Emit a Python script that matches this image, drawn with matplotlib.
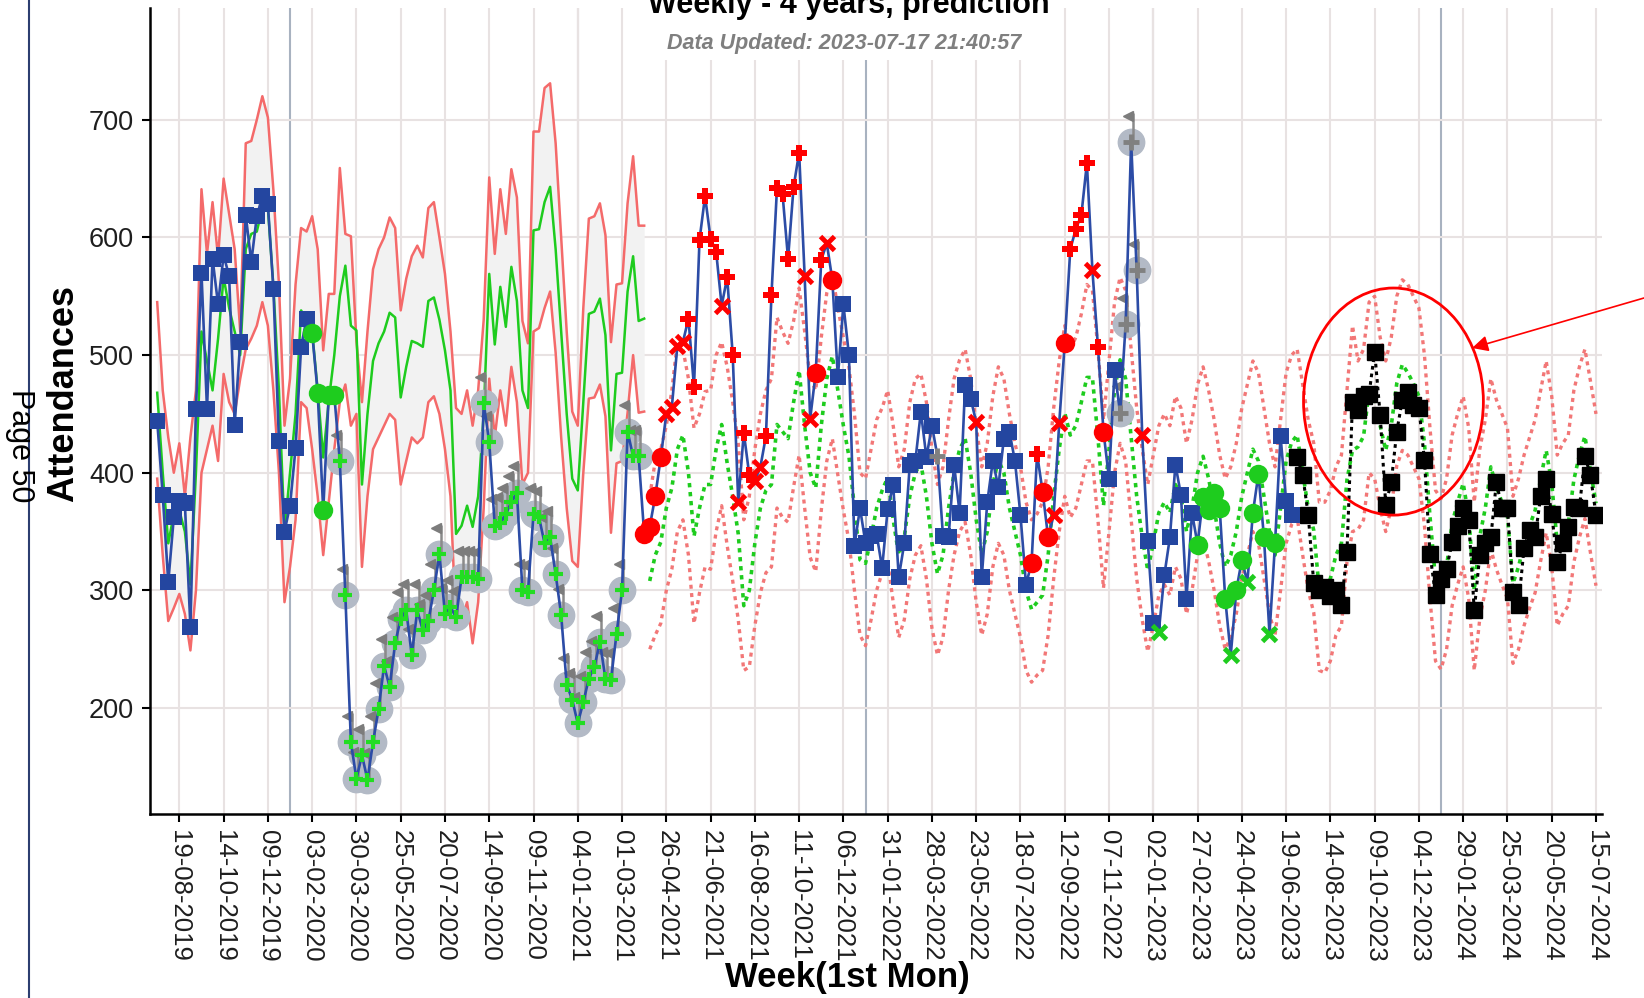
import matplotlib
matplotlib.use("Agg")
import matplotlib.pyplot as plt
import matplotlib.dates as mdates
import matplotlib.transforms as mtransforms
from matplotlib.lines import Line2D
from matplotlib.patches import Ellipse
import numpy as np
import pandas as pd

plt.rcParams["font.family"] = ["Liberation Sans", "DejaVu Sans"]

START = "2019-07-22"          # first week (Monday) in the series

# historical comparison band (solid), weeks 0..88
hist_upper = [545, 470, 430, 400, 425, 380, 430, 470, 641, 586,
              630, 583, 650, 620, 590, 520, 680, 682, 700, 720,
              702, 640, 560, 440, 480, 560, 608, 605, 618, 590,
              504, 552, 552, 659, 603, 601, 512, 460, 520, 573,
              590, 600, 617, 608, 538, 565, 584, 593, 583, 625,
              630, 600, 569, 520, 455, 450, 470, 440, 470, 530,
              651, 586, 641, 603, 658, 634, 529, 510, 690, 690,
              727, 731, 680, 600, 520, 452, 440, 540, 616, 618,
              629, 602, 511, 560, 561, 629, 669, 610, 610]
hist_mean = [468, 400, 340, 365, 368, 350, 305, 400, 520, 495,
             470, 514, 566, 540, 520, 500, 590, 603, 605, 625,
             625, 558, 470, 350, 400, 450, 538, 530, 520, 470,
             413, 461, 500, 550, 576, 525, 521, 390, 450, 495,
             510, 520, 536, 532, 464, 490, 512, 510, 507, 546,
             549, 530, 504, 470, 348, 355, 372, 354, 380, 450,
             569, 509, 558, 524, 575, 546, 470, 455, 606, 607,
             630, 643, 590, 520, 450, 395, 385, 460, 535, 537,
             548, 517, 419, 484, 485, 554, 584, 529, 531]
hist_lower = [395, 330, 274, 285, 297, 280, 249, 300, 400, 420,
              440, 410, 484, 460, 450, 480, 505, 514, 525, 545,
              525, 470, 400, 290, 320, 360, 460, 455, 420, 380,
              330, 375, 420, 460, 475, 440, 450, 320, 380, 420,
              430, 440, 450, 445, 390, 410, 430, 425, 430, 460,
              465, 450, 420, 380, 270, 275, 290, 255, 290, 370,
              480, 430, 470, 440, 490, 460, 390, 400, 520, 523,
              540, 554, 502, 430, 370, 325, 320, 400, 463, 464,
              475, 448, 349, 408, 410, 451, 500, 451, 452]

# forecast band (dotted), weeks 89..260
fc_upper = [380, 410, 420, 440, 470, 511, 505, 480, 438, 450,
            469, 470, 500, 511, 490, 460, 425, 360, 380, 420,
            450, 470, 480, 532, 520, 510, 529, 557, 520, 480,
            470, 515, 553, 569, 540, 515, 490, 450, 400, 395,
            420, 445, 455, 470, 440, 405, 420, 460, 480, 484,
            460, 420, 390, 405, 445, 480, 496, 505, 480, 440,
            405, 425, 465, 490, 480, 450, 425, 405, 375, 360,
            365, 375, 405, 455, 495, 525, 505, 515, 535, 560,
            555, 505, 445, 495, 545, 566, 555, 505, 455, 420,
            390, 415, 440, 450, 440, 465, 455, 425, 445, 475,
            490, 470, 445, 415, 395, 405, 425, 455, 475, 495,
            485, 455, 425, 405, 445, 485, 500, 505, 475, 445,
            425, 375, 375, 385, 405, 415, 470, 525, 495, 505,
            545, 550, 515, 495, 515, 550, 564, 560, 550, 540,
            500, 438, 385, 378, 395, 432, 450, 465, 438, 375,
            420, 445, 480, 462, 450, 438, 380, 395, 415, 430,
            445, 470, 495, 465, 415, 425, 432, 470, 490, 505,
            478, 450]
fc_mean = [308, 330, 341, 370, 387, 420, 432, 400, 346, 370,
           390, 390, 420, 441, 408, 380, 348, 287, 300, 340,
           370, 385, 390, 441, 435, 429, 460, 487, 440, 400,
           387, 440, 480, 499, 470, 440, 414, 370, 326, 323,
           345, 370, 385, 396, 360, 330, 345, 380, 400, 408,
           380, 340, 314, 330, 370, 400, 420, 429, 400, 360,
           331, 350, 390, 411, 400, 370, 350, 330, 300, 284,
           290, 296, 330, 380, 420, 451, 432, 440, 460, 481,
           481, 430, 372, 420, 470, 496, 480, 430, 380, 345,
           317, 340, 366, 375, 366, 390, 380, 350, 370, 400,
           414, 395, 370, 340, 320, 330, 350, 380, 400, 420,
           410, 380, 350, 330, 370, 410, 426, 432, 400, 370,
           351, 300, 300, 310, 330, 340, 394, 419, 422, 431,
           470, 465, 440, 419, 440, 476, 492, 485, 476, 465,
           425, 363, 309, 303, 320, 357, 375, 391, 363, 300,
           346, 370, 405, 388, 375, 363, 306, 320, 340, 355,
           368, 395, 419, 391, 340, 350, 357, 394, 415, 431,
           402, 374]
fc_lower = [250, 262, 272, 300, 318, 350, 360, 330, 272, 298,
            320, 318, 350, 372, 338, 308, 275, 232, 235, 270,
            298, 315, 320, 370, 362, 358, 388, 415, 370, 328,
            316, 368, 410, 429, 398, 368, 342, 300, 262, 253,
            275, 300, 315, 325, 290, 260, 275, 310, 330, 338,
            310, 268, 245, 260, 300, 330, 350, 358, 330, 290,
            262, 280, 320, 340, 330, 300, 280, 260, 232, 222,
            228, 232, 262, 310, 350, 380, 362, 370, 390, 410,
            410, 360, 302, 350, 400, 425, 410, 360, 310, 275,
            248, 270, 296, 305, 296, 320, 310, 280, 300, 330,
            344, 325, 300, 270, 250, 260, 280, 310, 330, 350,
            340, 310, 280, 262, 300, 340, 356, 362, 330, 300,
            281, 232, 230, 240, 262, 270, 324, 350, 352, 360,
            400, 395, 370, 350, 370, 406, 419, 415, 405, 395,
            355, 293, 240, 233, 250, 287, 305, 320, 293, 232,
            276, 300, 335, 318, 305, 293, 238, 250, 270, 285,
            298, 325, 349, 320, 270, 280, 287, 324, 345, 361,
            332, 304]

# weekly attendances, weeks 0..205
actual = [444, 381, 307, 362, 376, 374, 269, 454, 570, 454,
          582, 543, 585, 567, 441, 511, 619, 579, 618, 635,
          628, 556, 427, 350, 372, 421, 507, 531, 519, 468,
          368, 466, 466, 410, 296, 171, 140, 160, 139, 171,
          199, 236, 218, 255, 276, 283, 245, 283, 266, 274,
          300, 331, 280, 286, 277, 311, 311, 311, 310, 459,
          426, 355, 357, 365, 375, 383, 300, 299, 365, 362,
          340, 345, 314, 279, 220, 207, 187, 205, 225, 235,
          256, 225, 224, 263, 300, 435, 414, 414, 348, 354,
          380, 413, 450, 456, 508, 511, 531, 473, 598, 635,
          599, 588, 542, 566, 500, 375, 434, 398, 393, 405,
          431, 551, 642, 637, 582, 643, 672, 567, 446, 485,
          581, 595, 564, 481, 543, 500, 338, 370, 340, 346,
          348, 319, 369, 390, 311, 340, 407, 410, 452, 413,
          440, 414, 346, 345, 407, 366, 475, 463, 443, 311,
          375, 410, 388, 429, 435, 410, 364, 305, 323, 416,
          384, 345, 364, 442, 510, 590, 607, 619, 663, 572,
          507, 435, 395, 487, 451, 526, 681, 572, 432, 342,
          272, 265, 313, 345, 407, 381, 293, 366, 339, 379,
          368, 383, 370, 293, 245, 300, 326, 307, 366, 399,
          345, 263, 340, 431, 376, 364]
# point flag per week: s normal, g/G low (circle/cross), r/p/x high,
# c covid period, k flagged grey, q grey cross
flags = ("ssssssssss" "ssssssssss" "ssssssssgg" "gggccccccc" "cccccccccc"
         "cccccccccc" "cccccccccc" "cccccccccc" "ccccccccrr" "rrxxxxpppp"
         "ppxppxppxx" "pppppppxxr" "pxrsssssss" "ssssssssss" "sqssssssxs"
         "ssssssssrp" "rrxxrppppx" "prsskkkkxs" "sGssssssgg" "ggggGggGgg"
         "gGgsss")

# predicted weeks 206..260
pred = [413, 398, 364, 306, 300, 303, 295, 300, 288, 333,
        460, 453, 465, 467, 503, 449, 373, 392, 435, 462,
        469, 458, 455, 411, 331, 296, 310, 318, 341, 355,
        370, 360, 283, 330, 340, 345, 392, 370, 370, 299,
        288, 336, 351, 345, 380, 395, 365, 324, 340, 354,
        371, 370, 414, 398, 364]

weeks = pd.date_range(START, periods=261, freq="7D")
n_hist = len(hist_mean)
x_hist = weeks[:n_hist]
x_fc = weeks[n_hist:n_hist + len(fc_mean)]
x_act = weeks[:len(actual)]
x_pred = weeks[len(actual):len(actual) + len(pred)]
act = np.array(actual, dtype=float)
flag_arr = np.array(list(flags))

RED = "#F46A6A"
GREEN = "#1ECC1E"
BLUE = "#2C4CA6"
GREYC = "#B3BAC6"

fig = plt.figure(figsize=(16.44, 9.98), dpi=100)
ax = fig.add_axes([0.0912, 0.1844, 0.8833, 0.8076])

ax.grid(True, color="#E8E2E2", lw=1.5, zorder=0)
ax.set_axisbelow(True)
for d in ["2020-01-06", "2021-01-04", "2022-01-03", "2023-01-02", "2024-01-01"]:
    ax.axvline(pd.Timestamp(d), color="#A8B2C0", lw=1.5, zorder=0.5)

ax.fill_between(x_hist, hist_lower, hist_upper, color="#F2F2F2", lw=0, zorder=1)
ax.plot(x_hist, hist_upper, color=RED, lw=1.8, zorder=2)
ax.plot(x_hist, hist_lower, color=RED, lw=1.8, zorder=2)
ax.plot(x_hist, hist_mean, color=GREEN, lw=1.8, zorder=2)

dots = (0, (1.2, 1.3))
ax.plot(x_fc, fc_upper, color="#F27777", lw=2.4, ls=dots, zorder=2)
ax.plot(x_fc, fc_lower, color="#F27777", lw=2.4, ls=dots, zorder=2)
ax.plot(x_fc, fc_mean, color=GREEN, lw=2.6, ls=dots, zorder=2)

# covid-period grey circles sit under the line, with a small grey flag
grey = (flag_arr == "c") | (flag_arr == "k")
ax.plot(x_act[grey], act[grey], ls="none", marker="o", ms=19, color=GREYC,
        zorder=3)
stick_off = mtransforms.ScaledTranslation(1 / 72, 11 / 72, fig.dpi_scale_trans)
ax.plot(x_act[grey], act[grey], ls="none", marker="|", ms=20, mew=1.8,
        color="#8A8A8A", transform=ax.transData + stick_off, zorder=3.5)
flag_off = mtransforms.ScaledTranslation(-2.5 / 72, 19 / 72, fig.dpi_scale_trans)
ax.plot(x_act[grey], act[grey], ls="none", marker="<", ms=7, color="#7C7C7C",
        transform=ax.transData + flag_off, zorder=3.5)

ax.plot(x_act, act, color=BLUE, lw=1.9, zorder=4)
ax.plot(x_pred, pred, color="black", lw=2.2, ls=dots, zorder=4)
ax.plot(x_pred, pred, ls="none", marker="s", ms=11, color="black", zorder=5)

styles = {
    "s": dict(marker="s", ms=11, color="#2446A0"),
    "g": dict(marker="o", ms=14, color=GREEN),
    "G": dict(marker="x", ms=10, mew=3.5, color=GREEN),
    "r": dict(marker="o", ms=14, color="#FF0000"),
    "p": dict(marker="P", ms=12, color="#FF0000"),
    "x": dict(marker="x", ms=10, mew=3.5, color="#FF0000"),
    "c": dict(marker="+", ms=10, mew=3, color="#22DD22"),
    "k": dict(marker="+", ms=12, mew=3.5, color="#808080"),
    "q": dict(marker="+", ms=12, mew=3.5, color="#808080"),
}
for code, st in styles.items():
    m = flag_arr == code
    if m.any():
        ax.plot(x_act[m], act[m], ls="none", mew=st.pop("mew", 0), zorder=5, **st)

# highlight of the winter peak
cx = mdates.date2num(weeks[0] + pd.Timedelta(weeks=223.4))
ax.add_patch(Ellipse((cx, 460.5), width=227.5, height=193, fill=False,
                     ec="#FF0000", lw=2.0, zorder=6))
tip = mdates.date2num(weeks[0] + pd.Timedelta(weeks=237.6))
ax.annotate("", xy=(tip, 506), xycoords="data", xytext=(1.034, 0.7177),
            textcoords="figure fraction", annotation_clip=False,
            arrowprops=dict(arrowstyle="-|>", color="#FF0000", lw=1.2,
                            mutation_scale=24, shrinkA=0, shrinkB=0))

ax.set_ylim(110, 795)
ax.set_xlim(weeks[0] - pd.Timedelta(days=9.2), weeks[0] + pd.Timedelta(days=1827.7))
ax.set_yticks([200, 300, 400, 500, 600, 700])
ticks = pd.date_range("2019-08-19", "2024-07-15", freq="56D")
ax.set_xticks(ticks)
ax.set_xticklabels([t.strftime("%d-%m-%Y") for t in ticks], rotation=270,
                   ha="center", va="top")
ax.tick_params(axis="both", length=5.5, width=1.5, color="black", pad=6,
               labelcolor="#1E1E1E")
ax.tick_params(axis="x", labelsize=18.5)
ax.tick_params(axis="y", labelsize=19.5)
for s in ["top", "right"]:
    ax.spines[s].set_visible(False)
for s in ["left", "bottom"]:
    ax.spines[s].set_linewidth(1.8)

fig.text(64 / 1644, 1 - 393 / 998, "Attendances", rotation=90, ha="center",
         va="center", fontsize=26, fontweight="bold")
fig.text(847 / 1644, 1 - 977 / 998, "Week(1st Mon)", ha="center", va="center",
         fontsize=25, fontweight="bold")
fig.text(849 / 1644, 1 - 13 / 998, "Weekly - 4 years, prediction", ha="center",
         va="baseline", fontsize=22, fontweight="bold",
         bbox=dict(fc="white", ec="none", pad=4))
fig.text(844 / 1644, 1 - 43 / 998, "Data Updated: 2023-07-17 21:40:57",
         ha="center", va="center", fontsize=15.5, fontstyle="italic",
         fontweight="bold", color="#7F7F7F",
         bbox=dict(fc="white", ec="none", pad=5))

fig.add_artist(Line2D([29 / 1644, 29 / 1644], [0, 1], transform=fig.transFigure,
                      color="#2C3E70", lw=1.5))
fig.text(20 / 1644, 1 - 446 / 998, "Page 50", rotation=270, ha="center",
         va="center", fontsize=22)

fig.savefig("out.png", dpi=100)
